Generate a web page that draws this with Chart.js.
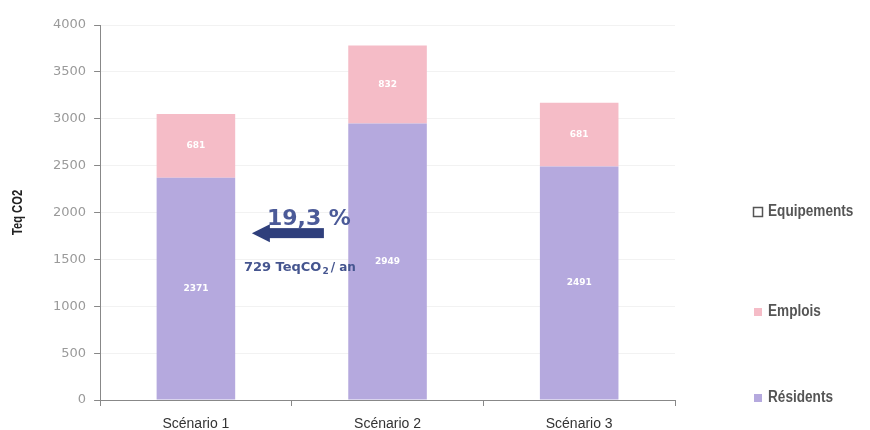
<!DOCTYPE html>
<html>
<head>
<meta charset="utf-8">
<script src="https://cdn.jsdelivr.net/npm/chart.js@4"></script>
<style>
  html, body { margin: 0; padding: 0; background: #ffffff; }
  #wrap { width: 870px; height: 430px; position: relative; }
</style>
</head>
<body>
<div id="wrap"><canvas id="chart"></canvas></div>
<script>
// Données du graphique
const scenarios = ['Scénario 1', 'Scénario 2', 'Scénario 3'];
const residents = [2371, 2949, 2491];
const emplois = [681, 832, 681];
const equipements = [0, 0, 0];
const yTicks = [0, 500, 1000, 1500, 2000, 2500, 3000, 3500, 4000];
const ecartPct = '19,3 %';

const sans = '"Liberation Sans", Arial, sans-serif';

// texte "serré" (police étroite simulée)
function narrowText(ctx, text, x, y, sx) {
    ctx.save();
    ctx.translate(x, y);
    ctx.scale(sx, 1);
    ctx.fillText(text, 0, 0);
    ctx.restore();
}

// Valeurs au centre des segments
const segmentLabels = {
    id: 'segmentLabels',
    afterDatasetsDraw(chart) {
        const ctx = chart.ctx;
        ctx.save();
        ctx.fillStyle = '#ffffff';
        ctx.font = 'bold 9px "DejaVu Sans", sans-serif';
        ctx.textAlign = 'center';
        ctx.textBaseline = 'middle';
        [0, 1].forEach(i => {
            const meta = chart.getDatasetMeta(i);
            meta.data.forEach((bar, j) => {
                const v = chart.data.datasets[i].data[j];
                ctx.fillText(String(v), bar.x, (bar.y + bar.base) / 2);
            });
        });
        ctx.restore();
    }
};

// Flèche et écart entre scénario 2 et scénario 1
const ecartNote = {
    id: 'ecartNote',
    afterDraw(chart) {
        const ctx = chart.ctx;
        const x = chart.scales.x, y = chart.scales.y;
        const x1 = x.getPixelForValue(0);
        const yArrow = y.getPixelForValue(1780);
        ctx.save();
        // flèche
        ctx.fillStyle = '#2f3f7c';
        const tip = x1 + 56;
        ctx.fillRect(tip + 16, yArrow - 5, 56, 10);
        ctx.beginPath();
        ctx.moveTo(tip, yArrow);
        ctx.lineTo(tip + 18, yArrow - 9);
        ctx.lineTo(tip + 18, yArrow + 9);
        ctx.closePath();
        ctx.fill();
        // textes
        ctx.fillStyle = '#4b5a98';
        ctx.font = 'bold 22px "DejaVu Sans", sans-serif';
        ctx.textAlign = 'left';
        ctx.textBaseline = 'alphabetic';
        ctx.fillText(ecartPct, tip + 15, yArrow - 8);
        ctx.fillStyle = '#45558f';
        ctx.font = 'bold 13px "DejaVu Sans", sans-serif';
        let tx = tip - 8;
        const ty = y.getPixelForValue(1380);
        ctx.fillText('729 TeqCO', tx, ty);
        tx += ctx.measureText('729 TeqCO').width;
        ctx.font = 'bold 9px "DejaVu Sans", sans-serif';
        ctx.fillText('2', tx + 1, ty + 3);
        tx += ctx.measureText('2').width + 3;
        ctx.font = 'bold 12px "DejaVu Sans", sans-serif';
        ctx.fillText('/ an', tx, ty);
        ctx.restore();
    }
};

// Légende à droite, dessinée à la main
const sideLegend = {
    id: 'sideLegend',
    afterDraw(chart) {
        const ctx = chart.ctx;
        const items = [2, 1, 0];
        const ys = [212, 312, 398];
        ctx.save();
        ctx.font = 'bold 16px ' + sans;
        ctx.textBaseline = 'middle';
        items.forEach((i, k) => {
            const ds = chart.data.datasets[i];
            const yy = ys[k];
            if (i === 2) {
                ctx.strokeStyle = '#555555';
                ctx.lineWidth = 1.5;
                ctx.strokeRect(753.5, yy - 4.5, 9, 9);
            } else {
                ctx.fillStyle = ds.backgroundColor;
                ctx.fillRect(754, yy - 4, 8, 8);
            }
            ctx.fillStyle = '#555555';
            narrowText(ctx, ds.label, 768, yy, 0.85);
        });
        ctx.restore();
    }
};

// Titre de l'axe Y (étroit)
const yTitle = {
    id: 'yTitle',
    afterDraw(chart) {
        const ctx = chart.ctx;
        const y = chart.scales.y;
        ctx.save();
        ctx.translate(18, (y.top + y.bottom) / 2);
        ctx.rotate(-Math.PI / 2);
        ctx.fillStyle = '#222222';
        ctx.font = 'bold 14px ' + sans;
        ctx.textAlign = 'center';
        ctx.textBaseline = 'middle';
        ctx.scale(0.8, 1);
        ctx.fillText('Teq CO2', 0, 0);
        ctx.restore();
    }
};

new Chart(document.getElementById('chart').getContext('2d'), {
    type: 'bar',
    data: {
        labels: scenarios,
        datasets: [
            { label: 'Résidents', data: residents, backgroundColor: '#b5a9de', borderWidth: 0 },
            { label: 'Emplois', data: emplois, backgroundColor: '#f5bcc7', borderWidth: 0 },
            { label: 'Equipements', data: equipements, backgroundColor: '#ffffff', borderWidth: 0 }
        ]
    },
    options: {
        responsive: true,
        maintainAspectRatio: false,
        animation: false,
        layout: { padding: { top: 25, right: 195, bottom: 0, left: 45 } },
        datasets: { bar: { categoryPercentage: 0.41, barPercentage: 1 } },
        plugins: {
            legend: { display: false },
            tooltip: { enabled: false }
        },
        scales: {
            x: {
                stacked: true,
                afterFit: scale => { scale.height = 30; },
                grid: { display: true, drawOnChartArea: false, offset: true, tickLength: 6, color: '#888888' },
                border: { color: '#888888' },
                ticks: { color: '#333333', font: { size: 14, family: sans }, padding: 10 }
            },
            y: {
                stacked: true,
                min: 0,
                max: 4000,
                afterBuildTicks: axis => { axis.ticks = yTicks.map(v => ({ value: v })); },
                grid: { color: '#f2f2f2', tickColor: '#888888', tickLength: 6 },
                border: { color: '#888888' },
                ticks: {
                    color: '#9a9a9a',
                    font: { size: 13, family: '"DejaVu Sans", sans-serif' },
                    padding: 8,
                    callback: v => String(v)
                }
            }
        }
    },
    plugins: [segmentLabels, ecartNote, sideLegend, yTitle]
});
</script>
</body>
</html>
